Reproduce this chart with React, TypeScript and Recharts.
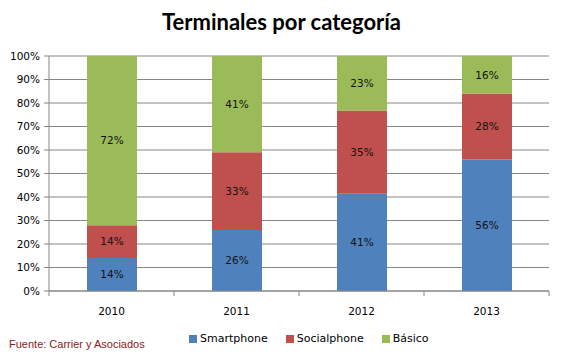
import { BarChart, Bar, XAxis, YAxis, CartesianGrid, LabelList } from 'recharts';

const YEARS = ['2010', '2011', '2012', '2013'];
const SMARTPHONE = [14, 26, 41, 56];
const SOCIALPHONE = [14, 33, 35, 28];
const BASICO = [72, 41, 23, 16];
const Y_TICKS = [0, 0.1, 0.2, 0.3, 0.4, 0.5, 0.6, 0.7, 0.8, 0.9, 1];

const SERIES = [
    { key: 'smartphone', name: 'Smartphone', color: '#4F81BD' },
    { key: 'socialphone', name: 'Socialphone', color: '#C0504D' },
    { key: 'basico', name: 'Básico', color: '#9BBB59' },
];

const data = YEARS.map((year, i) => ({
    year,
    smartphone: SMARTPHONE[i],
    socialphone: SOCIALPHONE[i],
    basico: BASICO[i],
}));

const FONT = '"DejaVu Sans", Verdana, sans-serif';
const GRID = '#868686';

const XTick = ({ x, y, payload, index }: any) => {
    const half = 62.5;
    return (
        <g>
            <line x1={x - half} x2={x - half} y1={y - 8} y2={y - 3} stroke={GRID} />
            {index === YEARS.length - 1 && (
                <line x1={x + half} x2={x + half} y1={y - 8} y2={y - 3} stroke={GRID} />
            )}
            <text x={x} y={y + 16} textAnchor="middle" fill="#000" style={{ fontFamily: FONT, fontSize: 10.5 }}>
                {payload.value}
            </text>
        </g>
    );
};

export default function App() {
    return (
        <div style={{ position: 'absolute', left: 0, top: 0, width: 563, height: 356, background: '#fff' }}>
            <div style={{
                position: 'absolute', top: 8, left: 0, width: 563, textAlign: 'center',
                fontFamily: 'Lato, sans-serif', fontWeight: 700, fontSize: 22, color: '#000',
            }}>
                Terminales por categoría
            </div>
            <BarChart
                width={563}
                height={356}
                data={data}
                stackOffset="expand"
                margin={{ top: 56, right: 14, bottom: 35, left: 0 }}
                barSize={50}
            >
                <CartesianGrid vertical={false} stroke={GRID} strokeDasharray="" />
                <XAxis
                    dataKey="year"
                    tick={<XTick />}
                    tickLine={false}
                    axisLine={{ stroke: GRID }}
                    interval={0}
                    height={30}
                />
                <YAxis
                    width={49}
                    ticks={Y_TICKS}
                    domain={[0, 1]}
                    tickFormatter={(v: number) => `${Math.round(v * 100)}%`}
                    tick={{ fill: '#000', fontFamily: FONT, fontSize: 10.5 }}
                    tickLine={{ stroke: GRID }}
                    axisLine={{ stroke: GRID }}
                    tickSize={5}
                    tickMargin={4}
                />
                {SERIES.map((s) => (
                    <Bar key={s.key} dataKey={s.key} name={s.name} stackId="a" fill={s.color} isAnimationActive={false}>
                        <LabelList
                            dataKey={s.key}
                            position="center"
                            formatter={(v: any) => `${v}%`}
                            style={{ fill: '#111', fontFamily: FONT, fontSize: 10.5 }}
                        />
                    </Bar>
                ))}
            </BarChart>
            <div style={{
                position: 'absolute', top: 332, left: 189, display: 'flex', gap: 18,
                fontFamily: FONT, fontSize: 11, color: '#000',
            }}>
                {SERIES.map((s) => (
                    <div key={s.key} style={{ display: 'flex', alignItems: 'center', gap: 3 }}>
                        <span style={{ width: 8, height: 8, background: s.color, display: 'inline-block' }} />
                        <span>{s.name}</span>
                    </div>
                ))}
            </div>
            <div style={{
                position: 'absolute', top: 338, left: 9,
                fontFamily: '"Liberation Sans", Arial, sans-serif', fontSize: 11, color: '#8B1A1A',
            }}>
                Fuente: Carrier y Asociados
            </div>
        </div>
    );
}
